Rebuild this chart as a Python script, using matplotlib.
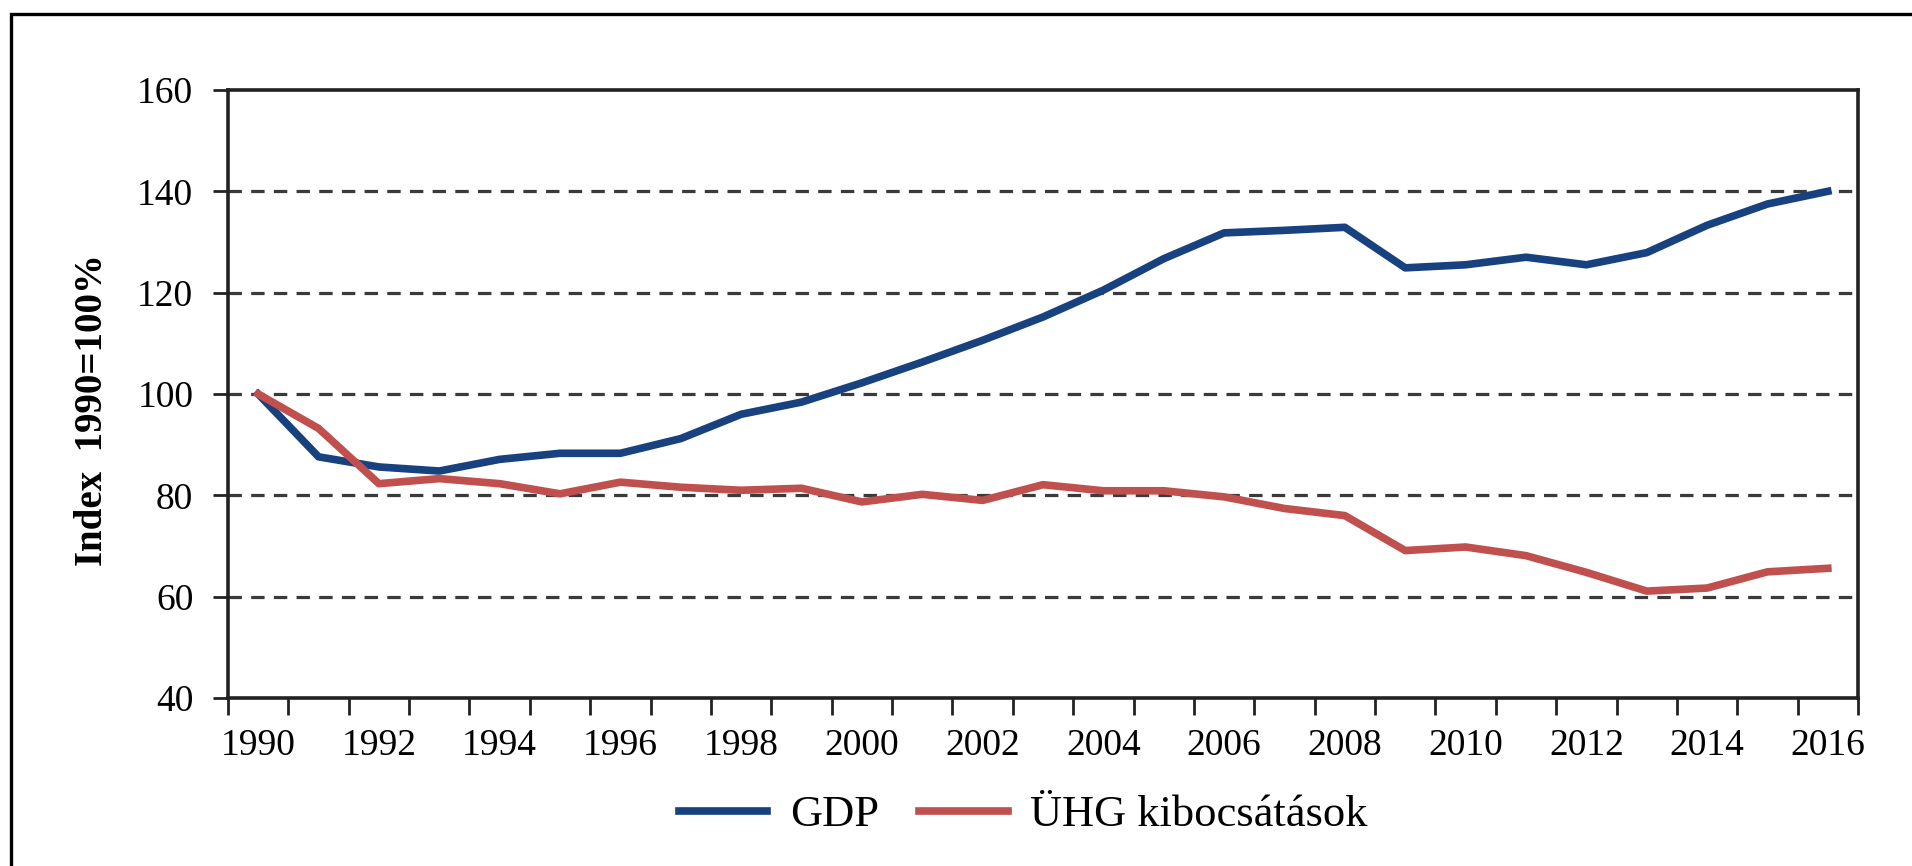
import matplotlib.pyplot as plt
from matplotlib.patches import Rectangle
from matplotlib.ticker import FixedLocator

years = list(range(1990, 2017))
gdp = [100, 87.6, 85.6, 84.8, 87.1, 88.3, 88.3, 91.2, 96.0, 98.4,
       102.2, 106.3, 110.6, 115.2, 120.5, 126.7, 131.8, 132.3, 132.9, 124.9,
       125.5, 127.0, 125.5, 127.9, 133.3, 137.5, 140.0]
uhg = [100, 93.2, 82.3, 83.3, 82.3, 80.3, 82.6, 81.6, 81.0, 81.4,
       78.7, 80.2, 79.0, 82.1, 80.9, 80.9, 79.7, 77.4, 76.0, 69.1,
       69.8, 68.1, 64.8, 61.1, 61.7, 64.9, 65.6]
label_years = list(range(1990, 2017, 2))
y_ticks = [40, 60, 80, 100, 120, 140, 160]

plt.rcParams['font.family'] = ['Liberation Serif', 'DejaVu Serif']

fig = plt.figure(figsize=(19.12, 8.66), dpi=100)
ax = fig.add_axes([228/1912, 1-698/866, (1858-228)/1912, (698-90)/866])

# outer frame (only left and top edges visible)
fig.patches.append(Rectangle((11/1912, -0.5), 1.5, 1.5 - 14/866,
                             transform=fig.transFigure, fill=False,
                             edgecolor='black', linewidth=2.4, zorder=0))

ax.plot(years, gdp, color='#17427F', linewidth=5.5, label='GDP', zorder=3)
ax.plot(years, uhg, color='#C0504D', linewidth=5.5, label='ÜHG kibocsátások', zorder=3)

ax.set_xlim(1989.5, 2016.5)
ax.set_ylim(40, 160)
ax.set_yticks(y_ticks)

for v in y_ticks[1:-1]:
    ax.axhline(v, color='#3a3a3a', linewidth=2.3, dashes=(4.2, 2.9), zorder=1)

ax.set_xticks(label_years)
ax.set_xticklabels([str(y) for y in label_years])
ax.xaxis.set_minor_locator(FixedLocator([y - 0.5 for y in years] + [2016.5]))
ax.tick_params(axis='x', which='major', length=0, pad=22, labelsize=27)
ax.tick_params(axis='x', which='minor', length=12, width=2, color='#222222', direction='out')
ax.tick_params(axis='y', length=11, width=2, color='#222222', pad=14, labelsize=27)

for s in ax.spines.values():
    s.set_linewidth(2.6)
    s.set_color('#222222')

fig.text(93/1912, 1-410/866, 'Index  1990=100%', rotation=90, ha='center', va='center',
         fontsize=28, fontweight='bold')

fig.legend(loc='center', bbox_to_anchor=(0.535, 1-815/866), ncol=2, frameon=False,
           fontsize=32, handlelength=2.0, handletextpad=0.5, columnspacing=0.9)

fig.savefig('out.png', dpi=100)
